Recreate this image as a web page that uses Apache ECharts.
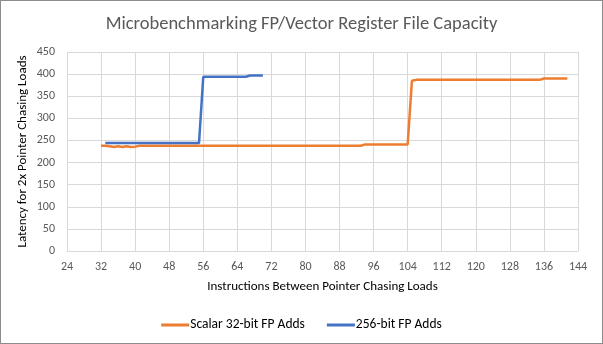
<!DOCTYPE html>
<html>
<head>
<meta charset="utf-8">
<script src="https://cdn.jsdelivr.net/npm/echarts@6/dist/echarts.min.js"></script>
<style>
  html, body { margin: 0; padding: 0; background: #fff; }
  #chart { width: 603px; height: 344px; box-sizing: border-box; border: 1px solid #8c8c8c; }
</style>
</head>
<body>
<div id="chart"></div>
<script>
// Register-file capacity sweep: latency vs. instructions between pointer-chasing loads
const xTicks = [24, 32, 40, 48, 56, 64, 72, 80, 88, 96, 104, 112, 120, 128, 136, 144];
const yTicks = [0, 50, 100, 150, 200, 250, 300, 350, 400, 450];

const scalarName = 'Scalar 32-bit FP Adds';
const scalarX = [32, 33, 34, 35, 36, 37, 38, 39, 40, 41, 93, 94, 104, 105, 106, 135, 136, 141.5];
const scalarY = [238, 238, 237, 235, 237, 235, 237, 235, 236, 238, 238, 241, 241, 385, 387, 387, 390, 390];

const vecName = '256-bit FP Adds';
const vecX = [33, 55, 56, 66, 67, 70];
const vecY = [244, 244, 394, 394, 397, 397];

const font = 'Carlito, Lato, "Liberation Sans", sans-serif';
const pairs = (xs, ys) => xs.map((x, i) => [x, ys[i]]);

const chart = echarts.init(document.getElementById('chart'), null, { renderer: 'canvas' });
chart.setOption({
  animation: false,
  textStyle: { fontFamily: font },
  title: {
    text: 'Microbenchmarking FP/Vector Register File Capacity',
    left: 'center', top: 9,
    textStyle: { fontFamily: font, fontSize: 18.5, fontWeight: 'normal', color: '#595959' }
  },
  legend: {
    top: 312, left: 'center', itemGap: 22, itemWidth: 28, itemHeight: 3,
    icon: 'rect',
    textStyle: { fontFamily: font, fontSize: 13.5, color: '#000', padding: [0, 0, 0, -4] },
    data: [scalarName, vecName]
  },
  grid: { left: 66, right: 24, top: 51, bottom: 92, outerBoundsMode: 'none' },
  xAxis: {
    type: 'value', min: xTicks[0], max: xTicks[xTicks.length - 1], interval: 8,
    name: 'Instructions Between Pointer Chasing Loads',
    nameLocation: 'middle', nameGap: 29, nameMoveOverlap: false,
    nameTextStyle: { fontFamily: font, fontSize: 13, color: '#000' },
    axisLine: { show: true, lineStyle: { color: '#d9d9d9' } },
    axisTick: { show: false },
    axisLabel: { fontFamily: font, fontSize: 12, color: '#595959', margin: 10 },
    splitLine: { show: true, lineStyle: { color: '#d9d9d9' } }
  },
  yAxis: {
    type: 'value', min: yTicks[0], max: yTicks[yTicks.length - 1], interval: 50,
    name: 'Latency for 2x Pointer Chasing Loads',
    nameLocation: 'middle', nameGap: 38, nameMoveOverlap: false,
    nameTextStyle: { fontFamily: font, fontSize: 13, color: '#000' },
    axisLine: { show: false },
    axisTick: { show: false },
    axisLabel: { fontFamily: font, fontSize: 12, color: '#595959', margin: 12 },
    splitLine: { show: true, lineStyle: { color: '#d9d9d9' } }
  },
  series: [
    {
      name: scalarName, type: 'line', data: pairs(scalarX, scalarY),
      showSymbol: false, symbol: 'none',
      lineStyle: { color: '#ED7D31', width: 2.5 }, itemStyle: { color: '#ED7D31' }
    },
    {
      name: vecName, type: 'line', data: pairs(vecX, vecY),
      showSymbol: false, symbol: 'none',
      lineStyle: { color: '#4472C4', width: 2.5 }, itemStyle: { color: '#4472C4' }
    }
  ]
});
</script>
</body>
</html>
